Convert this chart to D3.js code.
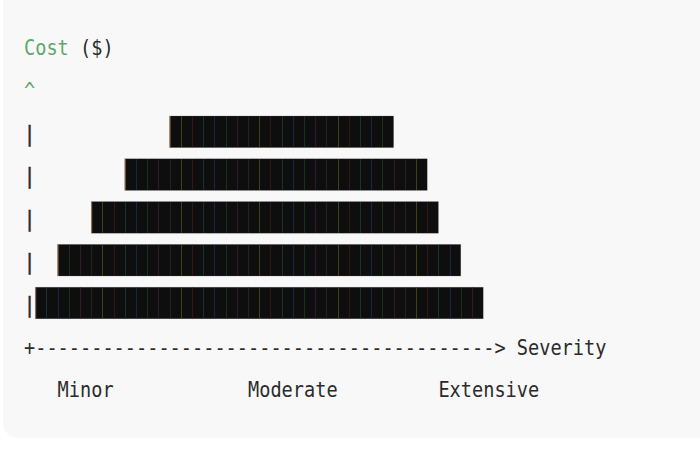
<!DOCTYPE html>
<html>
<head>
<meta charset="utf-8">
<script src="https://cdn.jsdelivr.net/npm/d3@7"></script>
<style>
  html, body { margin: 0; padding: 0; background: #ffffff; }
  svg { display: block; }
</style>
</head>
<body>
<div id="chart"></div>
<script>
// ascii style bar chart: rows from top to bottom, values are in character columns
var barStart  = [13, 9, 6, 3, 1];
var barLength = [20, 27, 31, 36, 40];
var tickLabels = ["Minor", "Moderate", "Extensive"];
var tickCols   = [3, 20, 37];
var yTitle = "Cost";
var yUnit  = "($)";
var xTitle = "Severity";
var axisDashes = 41;

var width = 700, height = 450;
var charW = 11.2;

var svg = d3.select("#chart")
    .append("svg")
    .attr("width", width)
    .attr("height", height);

// code block panel (top edge runs off the picture)
svg.append("rect")
    .attr("x", 3)
    .attr("y", -30)
    .attr("width", 730)
    .attr("height", 468)
    .attr("rx", 15)
    .attr("fill", "#f8f8f8");

// column -> pixel, line -> baseline
var col = d3.scaleLinear().domain([0, 1]).range([24, 24 + charW]);
var line = d3.scaleLinear().domain([0, 1]).range([55, 97.8]);

var g = svg.append("g")
    .attr("font-family", "'DejaVu Sans Mono', monospace")
    .attr("font-size", 21);

function monoText(str, c, l, color) {
    return g.append("text")
        .attr("x", col(c))
        .attr("y", line(l))
        .attr("textLength", str.length * charW)
        .attr("lengthAdjust", "spacingAndGlyphs")
        .attr("fill", color || "#2b2b2b")
        .text(str);
}

// y title and arrow head
monoText(yTitle, 0, 0, "#5fa86b");
monoText(yUnit, yTitle.length + 1, 0);
monoText("^", 0, 1, "#5fa86b");

// pipes of the y axis
barStart.forEach(function (d, i) {
    monoText("|", 0, i + 2).attr("stroke", "#2b2b2b").attr("stroke-width", 0.6);
});

// bars
var seamColors = ["#4a4a1c", "#3a1818", "#17393a", "#1b2a4c", "#1b3a1d", "#3a1a32", "#262626"];

var bars = g.selectAll("g.bar")
    .data(barStart.map(function (d, i) { return {start: d, len: barLength[i], row: i}; }))
    .enter()
    .append("g")
    .attr("class", "bar");

bars.append("rect")
    .attr("x", function (d) { return col(d.start); })
    .attr("y", function (d) { return line(d.row + 2) - 24.6; })
    .attr("width", function (d) { return col(d.start + d.len) - col(d.start); })
    .attr("height", 31.6)
    .attr("fill", "#0e0e0e")
    .attr("stroke", "#6a6a6a")
    .attr("stroke-width", 0.5)
    .attr("stroke-opacity", 0.5);

// faint coloured seams between block glyphs
bars.each(function (d) {
    var seams = d3.range(1, d.len);
    d3.select(this).selectAll("line")
        .data(seams)
        .enter()
        .append("line")
        .attr("x1", function (k) { return Math.round(col(d.start + k)) + 0.5; })
        .attr("x2", function (k) { return Math.round(col(d.start + k)) + 0.5; })
        .attr("y1", line(d.row + 2) - 24.2)
        .attr("y2", line(d.row + 2) + 6.6)
        .attr("stroke", function (k) { return seamColors[(k + d.start) % seamColors.length]; })
        .attr("stroke-opacity", 0.85)
        .attr("stroke-width", 1);
    // left edge fringe
    d3.select(this).append("line")
        .attr("x1", col(d.start) + 0.5)
        .attr("x2", col(d.start) + 0.5)
        .attr("y1", line(d.row + 2) - 24.6)
        .attr("y2", line(d.row + 2) + 7)
        .attr("stroke", "#e0a060")
        .attr("stroke-opacity", 0.6)
        .attr("stroke-width", 1);
});

// x axis, arrow and title on one line
var axisLine = 2 + barStart.length;
monoText("+" + "-".repeat(axisDashes) + "> " + xTitle, 0, axisLine);

// tick labels
tickLabels.forEach(function (d, i) {
    monoText(d, tickCols[i], axisLine + 1);
});
</script>
</body>
</html>
